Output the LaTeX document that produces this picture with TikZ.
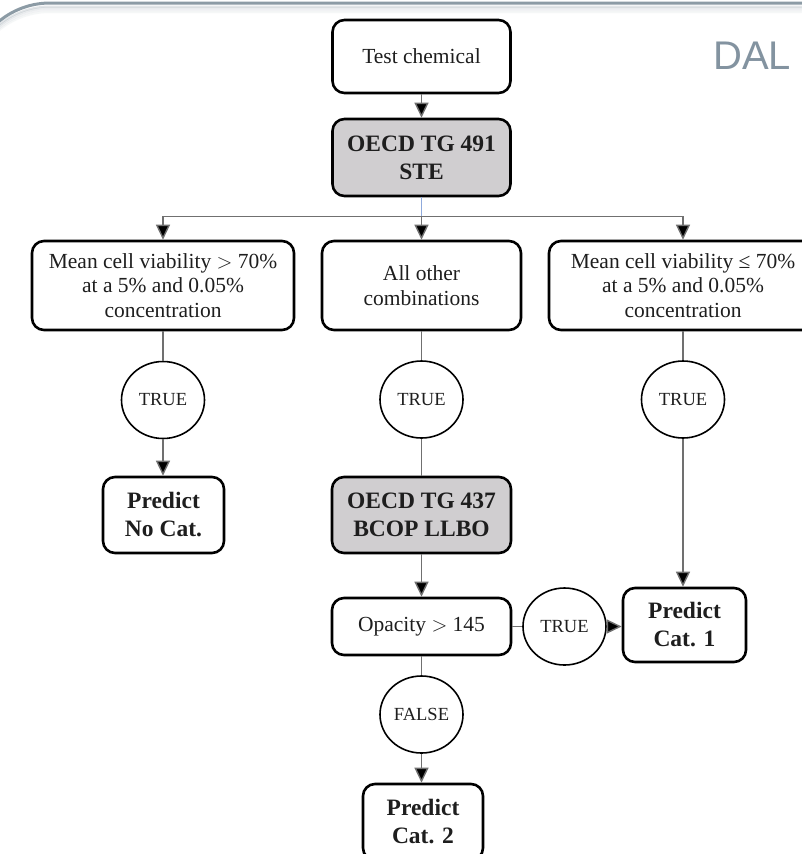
\documentclass[tikz,border=0pt]{standalone}
\usepackage{fontspec}
\setmainfont{Liberation Serif}
\newfontfamily\dalfont{Liberation Sans}
\usetikzlibrary{arrows.meta,shapes.geometric}
\definecolor{framecol}{HTML}{8C9BA5}
\definecolor{dalcol}{HTML}{8393A0}
\definecolor{boxgray}{HTML}{D0CED0}
\definecolor{conncol}{HTML}{707070}
\definecolor{bluecol}{HTML}{8FAADC}
\definecolor{txt}{HTML}{1E1E1E}
\tikzset{
  box/.style={draw=black, line width=2.6pt, rounded corners=12pt, rectangle, inner sep=0pt, align=center, text=txt, font=\fontsize{21.5}{24.5}\selectfont},
  boldbox/.style={box, font=\fontsize{23.5}{28}\selectfont\bfseries},
  graybox/.style={boldbox, fill=boxgray},
  cond/.style={draw=black, line width=1.6pt, ellipse, minimum width=83pt, minimum height=77pt, inner sep=0pt, text=txt, font=\fontsize{18.5}{20}\selectfont},
  conn/.style={draw=conncol, line width=1.4pt},
  arr/.style={conn, -{Triangle[length=15pt,width=14pt,fill=black]}},
}
\begin{document}
\begin{tikzpicture}[x=1pt,y=-1pt]
\useasboundingbox (0,0) rectangle (801,854);
\fill[white] (0,0) rectangle (801,854);
% frame with soft shadow
\foreach \o/\op in {9/0.08,7/0.12,5/0.18,3.5/0.25}{
  \draw[framecol, opacity=\op, line width=2pt, rounded corners=80pt] (-30,3+\o) rectangle (900,1000);
}
\draw[framecol, line width=3pt, rounded corners=80pt] (-30,3) rectangle (900,1000);
% title fragment
\node[anchor=base west, inner sep=0pt, text=dalcol, font=\dalfont\fontsize{40}{40}\selectfont] (dal) at (713,69) {DAL};

% nodes
\node[box, minimum width=178pt, minimum height=73pt] (tc) at (421.5,56.5) {Test chemical};
\node[graybox, minimum width=178pt, minimum height=77pt] (ste) at (421.5,157.5) {OECD TG 491\\STE};
\coordinate (j) at (421.5,216.5);
\node[box, minimum width=262pt, minimum height=89pt] (b1) at (163,285.5) {Mean cell viability $>$ 70\%\\at a 5\% and 0.05\%\\concentration};
\node[box, minimum width=199pt, minimum height=89pt] (b2) at (421.5,285.5) {All other\\combinations};
\node[box, minimum width=268pt, minimum height=89pt] (b3) at (683,285.5) {Mean cell viability ≤ 70\%\\at a 5\% and 0.05\%\\concentration};
\node[cond] (c1) at (163,400) {TRUE};
\node[cond] (c2) at (421.5,399.5) {TRUE};
\node[cond] (c3) at (683,399.5) {TRUE};
\node[boldbox, minimum width=121pt, minimum height=76pt] (nocat) at (163.5,515) {Predict\\No Cat.};
\node[graybox, minimum width=179pt, minimum height=76pt] (bcop) at (421.5,515) {OECD TG 437\\BCOP LLBO};
\node[box, minimum width=179pt, minimum height=57pt] (op) at (421.5,626.5) {Opacity $>$ 145};
\node[cond] (c4) at (564.5,626.5) {TRUE};
\node[boldbox, minimum width=123pt, minimum height=74pt] (cat1) at (684.5,625) {Predict\\Cat. 1};
\node[cond] (c5) at (421.5,714.5) {FALSE};
\node[boldbox, minimum width=120pt, minimum height=76pt] (cat2) at (423,822) {Predict\\Cat. 2};

% connectors
\draw[arr] (tc.south) -- (ste.north);
\draw[draw=bluecol, line width=1.4pt] (ste.south) -- (j);
\draw[arr] (j) -| (b1.north);
\draw[arr] (j) -- (b2.north);
\draw[arr] (j) -| (b3.north);
\draw[conn] (b1.south) -- (c1.north);
\draw[arr] (c1.south) -- (c1.south |- nocat.north);
\draw[conn] (b2.south) -- (c2.north);
\draw[conn] (c2.south) -- (bcop.north);
\draw[arr] (bcop.south) -- (op.north);
\draw[conn] (op.east) -- (c4.west);
\draw[arr] (c4.east) -- (cat1.west |- c4.east);
\draw[conn] (b3.south) -- (c3.north);
\draw[arr] (c3.south) -- (c3.south |- cat1.north);
\draw[conn] (op.south) -- (c5.north);
\draw[arr] (c5.south) -- (c5.south |- cat2.north);
\end{tikzpicture}
\end{document}
